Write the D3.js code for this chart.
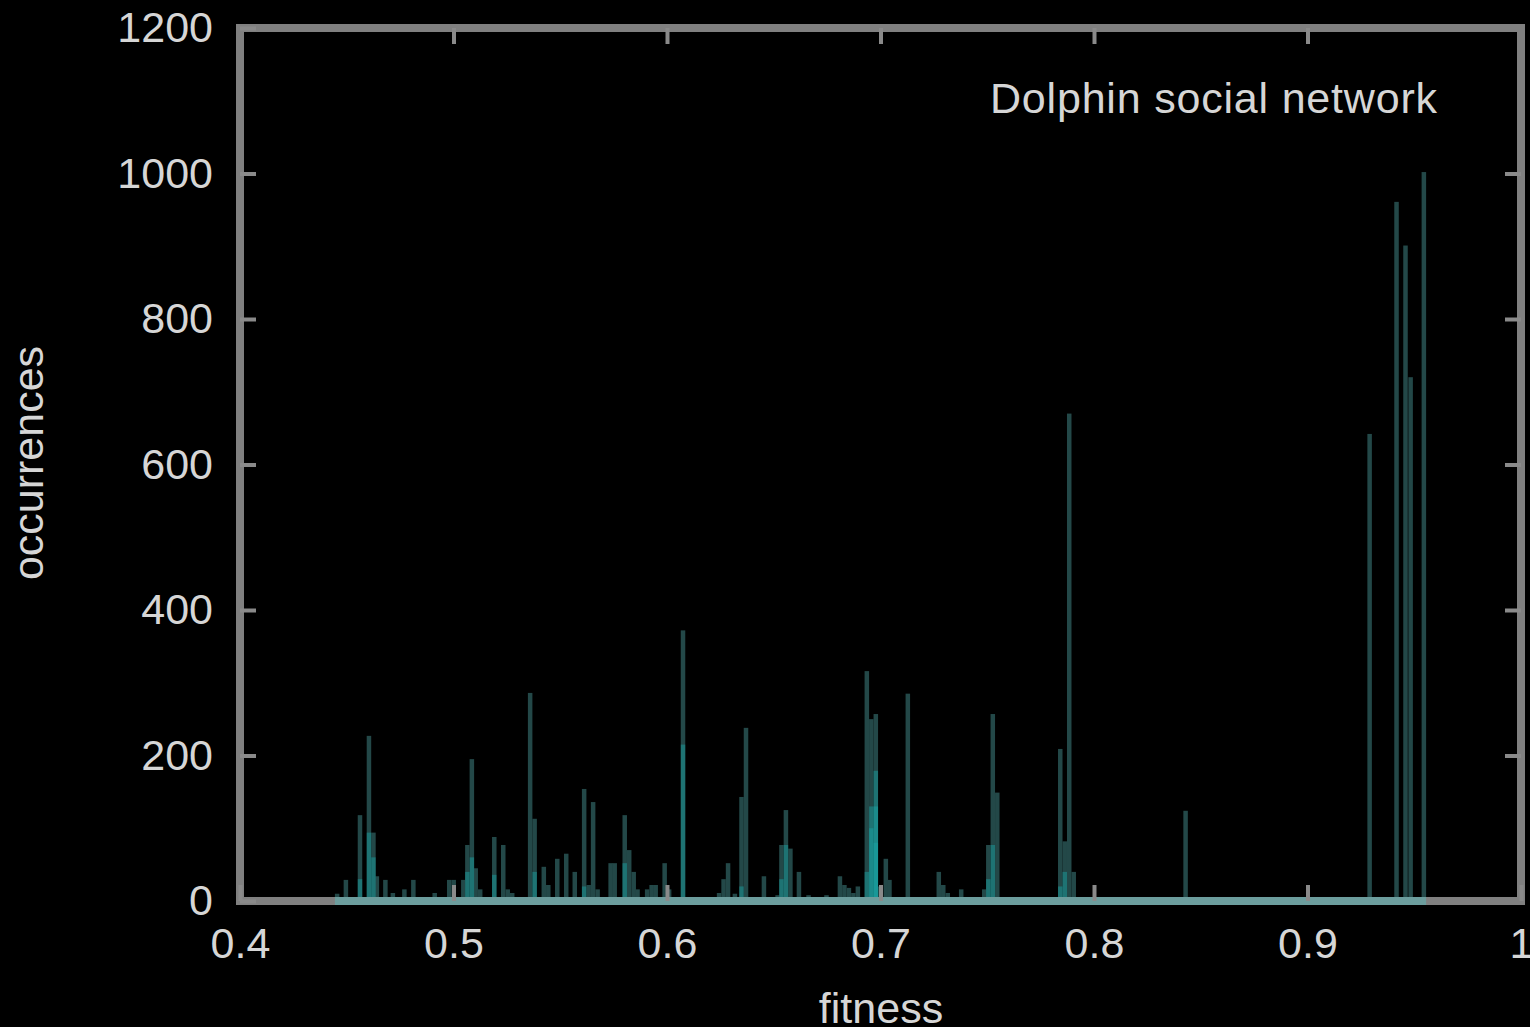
<!DOCTYPE html>
<html>
<head>
<meta charset="utf-8">
<script src="https://cdn.jsdelivr.net/npm/d3@7"></script>
<style>
  html, body { margin: 0; padding: 0; background: #000; }
  svg { display: block; }
  text { font-family: "Liberation Sans", Arial, sans-serif; fill: #d6d6d6; }
</style>
</head>
<body>
<div id="chart"></div>
<script>
// fitness / occurrences impulses
const fitness = [
  0.4455, 0.4496, 0.4562, 0.4604, 0.4625, 0.4641, 0.4681, 0.4716, 0.4770, 0.4812,
  0.4912, 0.4980, 0.5001, 0.5046, 0.5065, 0.5086, 0.5104, 0.5125, 0.5191, 0.5233,
  0.5254, 0.5275, 0.5359, 0.5380, 0.5423, 0.5444, 0.5486, 0.5528, 0.5568, 0.5612,
  0.5633, 0.5654, 0.5675, 0.5736, 0.5755, 0.5802, 0.5823, 0.5844, 0.5862, 0.5907,
  0.5928, 0.5947, 0.5989, 0.6010, 0.6075, 0.6244, 0.6265, 0.6286, 0.6318, 0.6349,
  0.6370, 0.6454, 0.6518, 0.6536, 0.6557, 0.6578, 0.6618, 0.6663, 0.6747, 0.6810,
  0.6831, 0.6852, 0.6873, 0.6894, 0.6936, 0.6957, 0.6978, 0.6999, 0.7025, 0.7042,
  0.7128, 0.7273, 0.7294, 0.7315, 0.7378, 0.7486, 0.7505, 0.7526, 0.7547, 0.7842,
  0.7863, 0.7884, 0.7905, 0.8429, 0.9291, 0.9417, 0.9459, 0.9483, 0.9545
];
const occurrences = [
  10, 29, 118, 227, 94, 34, 29, 11, 16, 29,
  11, 29, 29, 29, 77, 195, 45, 16, 88, 77,
  16, 11, 286, 113, 47, 22, 58, 65, 40, 154,
  22, 136, 16, 52, 52, 118, 70, 40, 16, 16,
  22, 22, 52, 16, 372, 11, 30, 52, 10, 143,
  238, 34, 8, 77, 125, 72, 40, 8, 8, 34,
  22, 18, 11, 20, 316, 250, 257, 20, 58, 29,
  285, 40, 22, 11, 16, 16, 77, 257, 149, 209,
  82, 670, 40, 124, 642, 961, 901, 720, 1002
];

// overlapping low counts that show up brighter
const denseFitness = [0.4562, 0.4604, 0.4625, 0.5065, 0.5086, 0.5191, 0.5380, 0.5612, 0.5802,
  0.6075, 0.6349, 0.6536, 0.6557, 0.6936, 0.6957, 0.6957, 0.6978, 0.6978, 0.6978, 0.7505, 0.7526, 0.7842, 0.7863];
const denseCounts = [30, 94, 60, 40, 60, 36, 40, 20, 52,
  215, 20, 30, 77, 40, 130, 100, 179, 130, 80, 30, 77, 20, 40];

const xTicks = [0.4, 0.5, 0.6, 0.7, 0.8, 0.9, 1];
const yTicks = [0, 200, 400, 600, 800, 1000, 1200];

const width = 1530, height = 1027;
const margin = { top: 28, right: 9, bottom: 126, left: 240 };
const innerW = width - margin.left - margin.right;
const innerH = height - margin.top - margin.bottom;

const svg = d3.select("#chart").append("svg")
  .attr("width", width)
  .attr("height", height)
  .style("background", "#000");

const g = svg.append("g")
  .attr("transform", `translate(${margin.left},${margin.top})`);

const x = d3.scaleLinear().domain([0.4, 1]).range([0, innerW]);
const y = d3.scaleLinear().domain([0, 1200]).range([innerH, 0]);

const barW = 4.5;
const bars = fitness.map((f, i) => ({ f, v: occurrences[i] }));
const dense = denseFitness.map((f, i) => ({ f, v: denseCounts[i] }));

// impulses
g.append("g").selectAll("rect")
  .data(bars)
  .join("rect")
  .attr("x", d => x(d.f) - barW / 2)
  .attr("y", d => y(d.v))
  .attr("width", barW)
  .attr("height", d => y(0) - y(d.v))
  .attr("fill", "#234848");

g.append("g").selectAll("rect")
  .data(dense)
  .join("rect")
  .attr("x", d => x(d.f) - barW / 2)
  .attr("y", d => y(d.v))
  .attr("width", barW)
  .attr("height", d => y(0) - y(d.v))
  .attr("fill", "#18a8a8")
  .attr("opacity", 0.45);

// frame
g.append("rect")
  .attr("x", 0).attr("y", 0)
  .attr("width", innerW).attr("height", innerH)
  .attr("fill", "none")
  .attr("stroke", "#808080")
  .attr("stroke-width", 8);

// baseline where data sits on the axis
const ext = d3.extent(fitness);
g.append("rect")
  .attr("x", x(ext[0]) - barW / 2)
  .attr("y", y(0) - 4)
  .attr("width", x(ext[1]) - x(ext[0]) + barW)
  .attr("height", 8)
  .attr("fill", "#6c9d9d");

// axes (ticks inward, mirrored)
const tickLen = 16;
function styleAxis(sel) {
  sel.select(".domain").remove();
  sel.selectAll(".tick line").attr("stroke", "#8a8a8a").attr("stroke-width", 4);
  sel.selectAll(".tick text").style("font-size", "43px").attr("fill", "#d6d6d6");
}

g.append("g")
  .call(d3.axisLeft(y).tickValues(yTicks).tickSize(-tickLen).tickPadding(27).tickFormat(d3.format("d")))
  .call(styleAxis);

g.append("g")
  .attr("transform", `translate(${innerW},0)`)
  .call(d3.axisRight(y).tickValues(yTicks.slice(1, -1)).tickSize(-tickLen).tickFormat(""))
  .call(styleAxis);

g.append("g")
  .attr("transform", `translate(0,${innerH})`)
  .call(d3.axisBottom(x).tickValues(xTicks).tickSize(-tickLen).tickPadding(26).tickFormat(d3.format("")))
  .call(styleAxis);

g.append("g")
  .call(d3.axisTop(x).tickValues(xTicks.slice(1, -1)).tickSize(-tickLen).tickFormat(""))
  .call(styleAxis);

// labels
svg.append("text")
  .attr("x", 881).attr("y", 1023)
  .attr("text-anchor", "middle")
  .style("font-size", "43px")
  .text("fitness");

svg.append("text")
  .attr("transform", "translate(43,463) rotate(-90)")
  .attr("text-anchor", "middle")
  .style("font-size", "43px")
  .text("occurrences");

svg.append("text")
  .attr("x", 990).attr("y", 113)
  .style("font-size", "43px")
  .style("letter-spacing", "0.8px")
  .text("Dolphin social network");
</script>
</body>
</html>
